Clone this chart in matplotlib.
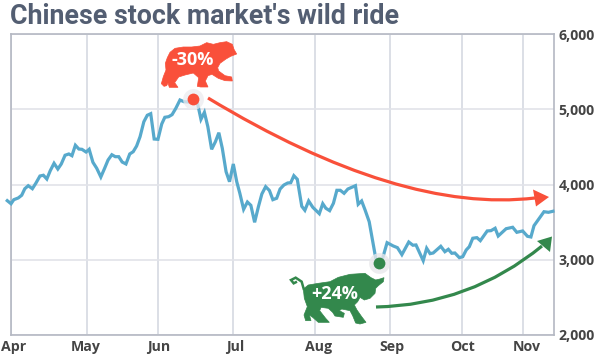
import matplotlib
matplotlib.use("Agg")
import matplotlib.pyplot as plt
from matplotlib.path import Path
from matplotlib.patches import PathPatch, Polygon
from matplotlib.transforms import Affine2D

W, H = 599, 359
title = "Chinese stock market's wild ride"

sessions = [0,1.1,1.9,3.2,4.2,5.1,6.1,7.3,8.3,9.5,10.5,11.5,12.5,13.6,14.7,15.7,16.8,17.9,18.8,19.8,
 20.8,21.7,22.9,23.8,24.9,26,27.2,28.3,29.3,30.4,31.4,32.4,33.4,34.5,35.6,36.6,37.6,38.6,39.7,40.7,
 41.7,42.7,43.8,44.9,45.8,46.9,47.9,49,50.2,51.4,52.6,54.1,55.3,56.3,57.3,58.3,59.4,60.5,61.5,62.5,
 63.6,64.6,65.7,66.7,67.6,68.7,69.8,70.8,71.9,73,74,75.1,76.2,77.2,78.3,79.3,80.4,81.5,82.4,83.3,
 84.3,85.6,86.5,87.6,88.8,90.7,91.7,92.6,93.7,94.8,95.8,96.8,97.9,99,101.2,102,103,104,105.2,107.1,
 108,109.1,110.4,112.2,113.4,114.7,116.7,117.9,118.8,120.9,121.9,122.9,123.8,126,127.2,128.2,129.2,130.1,131.4,132.4,
 133.4,134.3,135.3,136.5,137.5,139.5,140.6,141.8,142.7,145,146.9,148.1,149.8,151.2,152.2,153.1,156,157.3,158.6]
index_close = [3787,3746,3800,3823,3859,3946,3986,3946,4018,4115,4125,4075,4186,4284,4208,4275,4391,4408,4385,4524,
 4474,4470,4434,4470,4297,4218,4102,4218,4328,4398,4372,4372,4301,4275,4408,4438,4514,4638,4837,4923,
 4944,4607,4603,4807,4896,4904,4931,5016,5126,5103,5099,5135,5082,4869,4962,4771,4470,4571,4691,4484,
 4172,4039,4275,4039,3885,3672,3769,3725,3499,3707,3876,3973,3922,3800,3819,3942,3995,4022,4026,4119,
 4071,3712,3659,3783,3699,3614,3747,3686,3654,3752,3925,3925,3885,3942,3986,3739,3783,3663,3507,3021,
 2954,3021,3228,3184,3162,3069,3237,3194,3198,2989,3154,3082,3091,3180,3108,3140,3087,3091,3029,3042,
 3131,3175,3287,3295,3255,3384,3388,3420,3317,3414,3433,3366,3384,3313,3304,3454,3640,3632,3646]

month_labels = ["Apr","May","Jun","Jul","Aug","Sep","Oct","Nov"]
month_sessions = [1.0,23.1,43.7,65.5,89.5,111.3,132.3,149.9]
y_ticks = [2000,3000,4000,5000,6000]
y_labels = ["2,000","3,000","4,000","5,000","6,000"]
peak = (54.1, 5135, "-30%")
trough = (108, 2954, "+24%")

RED, GREEN, BLUE = "#f9503a", "#33884c", "#57a9cc"

fig = plt.figure(figsize=(W/100, H/100), dpi=100, facecolor="white")
ax = fig.add_axes([10.7/W, 1-335/H, (554.3-10.7)/W, (335-34.3)/H])
ax.set_xlim(1.0, 159.0)
ax.set_ylim(2000, 6000)
ax.set_xticks(month_sessions, month_labels)
ax.set_yticks(y_ticks, y_labels)
ax.yaxis.tick_right()
ax.grid(axis="x", color="#d6d9e1", lw=1.2)
ax.grid(axis="y", color="#e2e3e9", lw=1.2)
ax.set_axisbelow(True)
for s in ax.spines.values():
    s.set_color("#b4b8c2")
    s.set_linewidth(1.2)
ax.tick_params(length=0, labelcolor="#444444")
ax.tick_params(axis="y", pad=3.2)
ax.tick_params(axis="x", pad=3.5)
for t in ax.get_xticklabels() + ax.get_yticklabels():
    t.set_family("Open Sans"); t.set_fontsize(10.2); t.set_fontweight("bold")
for t, dx in zip(ax.get_xticklabels(), [3, -1, 1, 2.5, 3, 2, 0, 4]):
    t.set_transform(t.get_transform() + Affine2D().translate(dx, 0))

ax.plot(sessions, index_close, color=BLUE, lw=2.3, clip_on=False, solid_joinstyle="miter", zorder=3)

# dots with halos
ax.plot(*peak[:2], "o", ms=15, color="#ececef", alpha=.75, mec="none", zorder=4)
ax.plot(*peak[:2], "o", ms=8.5, color=RED, mec="none", zorder=5)
ax.plot(*trough[:2], "o", ms=15, color="#e8e8eb", alpha=.8, mec="none", zorder=4)
ax.plot(*trough[:2], "o", ms=8.5, color=GREEN, mec="none", zorder=5)

fig.text(10/W, 1-16/H, title, family="Roboto", weight="bold", fontsize=19.3, color="#535e72", va="center")

# pixel-space overlay for the illustration
px = Affine2D().scale(1, -1).translate(0, H)

def curve(p0, c, p1, col, head):
    fig.add_artist(PathPatch(Path([p0, c, p1], [Path.MOVETO, Path.CURVE3, Path.CURVE3]),
                             fc="none", ec=col, lw=2.3, transform=px, capstyle="butt"))
    fig.add_artist(Polygon(head, closed=True, fc=col, ec="none", transform=px))

curve((208,98),(400,214),(535,198),RED,[(549,197),(533,189.5),(536,206.5)])
curve((376,307),(470,305),(542,246),GREEN,[(552,236.5),(537,241),(550,252)])

def z9(pts):
    return [(150+x/3, 35+y/3) for x, y in pts]
def z10(pts):
    return [(285+x/3, 265+y/3) for x, y in pts]

bear = z9([(60,52),(75,40),(100,36),(125,36),(150,33),(170,23),(190,28),(210,23),(230,20),(247,28),(252,43),(260,57),
 (242,64),(228,72),(210,85),(203,98),(206,108),(225,122),(245,126),(247,138),(225,137),(205,130),(186,118),(174,122),
 (166,138),(174,156),(152,156),(142,154),(146,128),(130,114),(105,120),(86,126),(74,143),(84,157),(58,157),(54,144),
 (50,152),(42,154),(34,146),(40,125),(48,105),(46,85),(52,68)])
fig.add_artist(Polygon(bear, closed=True, fc=RED, ec=RED, lw=.5, transform=px))

bull = z10([(55,72),(70,60),(100,55),(135,50),(160,37),(195,28),(240,25),(258,38),(272,45),(285,42),(297,38),(295,50),
 (280,62),(272,70),(270,85),(255,100),(238,105),(225,97),(218,110),(208,120),(216,135),(230,155),(243,172),(225,177),
 (212,174),(203,152),(195,137),(170,132),(163,137),(178,145),(175,157),(150,153),(143,142),(130,130),(108,127),(104,137),
 (122,160),(133,172),(100,172),(83,157),(73,150),(78,167),(62,167),(57,150),(67,125),(58,100)])
fig.add_artist(Polygon(bull, closed=True, fc=GREEN, ec=GREEN, lw=.5, transform=px))
tail = z10([(57,75),(50,50),(32,38),(18,45),(26,55),(36,50)])
fig.add_artist(PathPatch(Path(tail), fc="none", ec=GREEN, lw=1.8, transform=px))

fig.text(192.5/W, 1-60/H, peak[2], color="white", family="Open Sans", weight="bold", fontsize=13, ha="center", va="center")
fig.text(334.7/W, 1-294/H, trough[2], color="white", family="Open Sans", weight="bold", fontsize=13, ha="center", va="center")

fig.savefig("out.png", dpi=100)
